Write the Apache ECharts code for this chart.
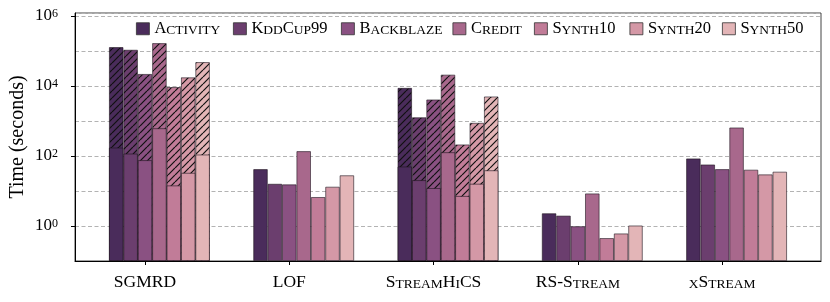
<!DOCTYPE html>
<html><head><meta charset="utf-8">
<script src="https://cdn.jsdelivr.net/npm/echarts@6/dist/echarts.min.js"></script>
<style>html,body{margin:0;padding:0;background:#fff}#c{width:830px;height:302px}</style>
</head><body><div id="c"></div>
<script>
const categories = ['SGMRD', 'LOF', 'StreamHiCS', 'RS-Stream', 'xStream'];
const datasets = ['Activity', 'KddCup99', 'Backblaze', 'Credit', 'Synth10', 'Synth20', 'Synth50'];
const colors = ['#4a2c5b', '#6b3e6e', '#8a5182', '#a8688c', '#c17c98', '#d498a6', '#e3b5b7'];
// solid part (per dataset, across categories)
const solidActivity  = [174, 42, 50, 2.3, 85];
const solidKddCup99  = [117, 16, 20.4, 1.97, 57];
const solidBackblaze = [76, 15.4, 12.1, 0.98, 42];
const solidCredit    = [620, 137, 128, 8.5, 650];
const solidSynth10   = [14.4, 6.7, 7.2, 0.45, 40.5];
const solidSynth20   = [33, 13.2, 16.1, 0.61, 29.7];
const solidSynth50   = [110, 28, 39, 1.03, 35.5];
// hatched total (per dataset, across categories)
const hatchActivity  = [1.29e5, null, 8.8e3, null, null];
const hatchKddCup99  = [1.08e5, null, 1.27e3, null, null];
const hatchBackblaze = [2.2e4, null, 4.1e3, null, null];
const hatchCredit    = [1.67e5, null, 2.1e4, null, null];
const hatchSynth10   = [9.3e3, null, 213, null, null];
const hatchSynth20   = [1.76e4, null, 885, null, null];
const hatchSynth50   = [4.8e4, null, 5.0e3, null, null];
const yTickValues = [1, 100, 10000, 1000000];
const yTickExponents = ['0', '2', '4', '6'];

const solid = [solidActivity, solidKddCup99, solidBackblaze, solidCredit, solidSynth10, solidSynth20, solidSynth50];
const hatched = [hatchActivity, hatchKddCup99, hatchBackblaze, hatchCredit, hatchSynth10, hatchSynth20, hatchSynth50];

const FONT = 'Liberation Serif';
function sc(text, big, small) {
  let out = '', i = 0;
  while (i < text.length) {
    const low = text[i] >= 'a' && text[i] <= 'z';
    let j = i;
    while (j < text.length && ((text[j] >= 'a' && text[j] <= 'z') === low)) j++;
    const seg = text.slice(i, j);
    out += '{' + (low ? small : big) + '|' + (low ? seg.toUpperCase() : seg) + '}';
    i = j;
  }
  return out;
}
function hatch(color) {
  const s = 7, c = document.createElement('canvas');
  c.width = s; c.height = s;
  const g = c.getContext('2d');
  g.fillStyle = color; g.fillRect(0, 0, s, s);
  g.strokeStyle = '#111'; g.lineWidth = 1.2;
  g.beginPath();
  for (const k of [-s, 0, s]) { g.moveTo(k, s); g.lineTo(k + s, 0); }
  g.stroke();
  return { image: c, repeat: 'repeat' };
}
const OFF = 0.1;
const XMIN = -0.485, XMAX = 4.685;
const edge = { borderColor: 'rgba(30,20,30,0.75)', borderWidth: 0.8 };

const series = [];
datasets.forEach((d, k) => {
  series.push({
    name: d + ' (total)', type: 'bar', xAxisIndex: 0, yAxisIndex: 0,
    barWidth: 14.4, barGap: '0%', z: 2,
    itemStyle: Object.assign({ color: hatch(colors[k]) }, edge),
    data: hatched[k].map((v, i) => [i + OFF, v == null ? '-' : v])
  });
});
datasets.forEach((d, k) => {
  series.push({
    name: d, type: 'bar', xAxisIndex: 1, yAxisIndex: 0,
    barWidth: 14.4, barGap: '0%', z: 3,
    itemStyle: Object.assign({ color: colors[k] }, edge),
    data: solid[k].map((v, i) => [i + OFF, v])
  });
});

const legendTextStarts = [154, 251, 359, 470.5, 552, 647.5, 740];
const legendRich = {
  lb: { fontFamily: FONT, fontSize: 16.5, lineHeight: 16.5, verticalAlign: 'bottom', color: '#000' },
  ls: { fontFamily: FONT, fontSize: 13.5, lineHeight: 14.5, verticalAlign: 'bottom', color: '#000' }
};
const legends = datasets.map((d, k) => ({
  data: [d], left: legendTextStarts[k] - 18, top: 20, padding: 0,
  itemWidth: 13, itemHeight: 12, icon: 'rect', selectedMode: false,
  itemStyle: { borderColor: '#333', borderWidth: 0.8 },
  formatter: n => sc(n, 'lb', 'ls'),
  textStyle: { rich: legendRich }
}));

const xRich = {
  xb: { fontFamily: FONT, fontSize: 17.5, lineHeight: 17.5, verticalAlign: 'bottom', color: '#000' },
  xs: { fontFamily: FONT, fontSize: 13.5, lineHeight: 14.8, verticalAlign: 'bottom', color: '#000' }
};
const catIdx = categories.map((c, i) => i);

const option = {
  animation: false,
  backgroundColor: '#fff',
  grid: { left: 75, right: 9, top: 13, bottom: 41, show: true, borderColor: '#444', borderWidth: 1, containLabel: false },
  legend: legends,
  xAxis: [
    { type: 'value', position: 'bottom', min: XMIN, max: XMAX,
      axisLine: { show: true, onZero: false, lineStyle: { color: '#000', width: 1 } },
      axisTick: { show: true, customValues: catIdx, length: 4, lineStyle: { color: '#000' } },
      axisLabel: { customValues: catIdx, margin: 13, formatter: v => sc(categories[Math.round(v)], 'xb', 'xs'), rich: xRich },
      splitLine: { show: false } },
    { type: 'value', position: 'bottom', min: XMIN, max: XMAX, show: false }
  ],
  yAxis: [
    { type: 'log', position: 'left', min: 0.1, max: 1.22e6, startValue: 0.1, logBase: 10,
      axisLine: { show: true, onZero: false, lineStyle: { color: '#000' } },
      axisTick: { show: false }, axisLabel: { show: false },
      splitLine: { show: true, lineStyle: { color: '#b3b3b3', width: 1, type: [4, 2.5] } },
      name: 'Time (seconds)', nameLocation: 'middle', nameGap: 47,
      nameTextStyle: { fontFamily: FONT, fontSize: 20, color: '#000' } },
    { type: 'log', position: 'left', min: 0.1, max: 1.22e6, logBase: 10,
      axisLine: { show: false, onZero: false },
      axisTick: { show: true, customValues: yTickValues, length: 4, lineStyle: { color: '#000' } },
      axisLabel: { customValues: yTickValues, margin: 17,
        formatter: v => '{n|10}{sup|' + yTickExponents[yTickValues.indexOf(v)] + '}',
        rich: {
          n: { fontFamily: FONT, fontSize: 17, lineHeight: 17, verticalAlign: 'bottom', color: '#000' },
          sup: { fontFamily: FONT, fontSize: 12, lineHeight: 12, padding: [0, 0, 10, 0], verticalAlign: 'top', color: '#000' }
        } },
      splitLine: { show: false } }
  ],
  series: series
};
const chart = echarts.init(document.getElementById('c'), null, { renderer: 'canvas' });
chart.setOption(option);
</script></body></html>
